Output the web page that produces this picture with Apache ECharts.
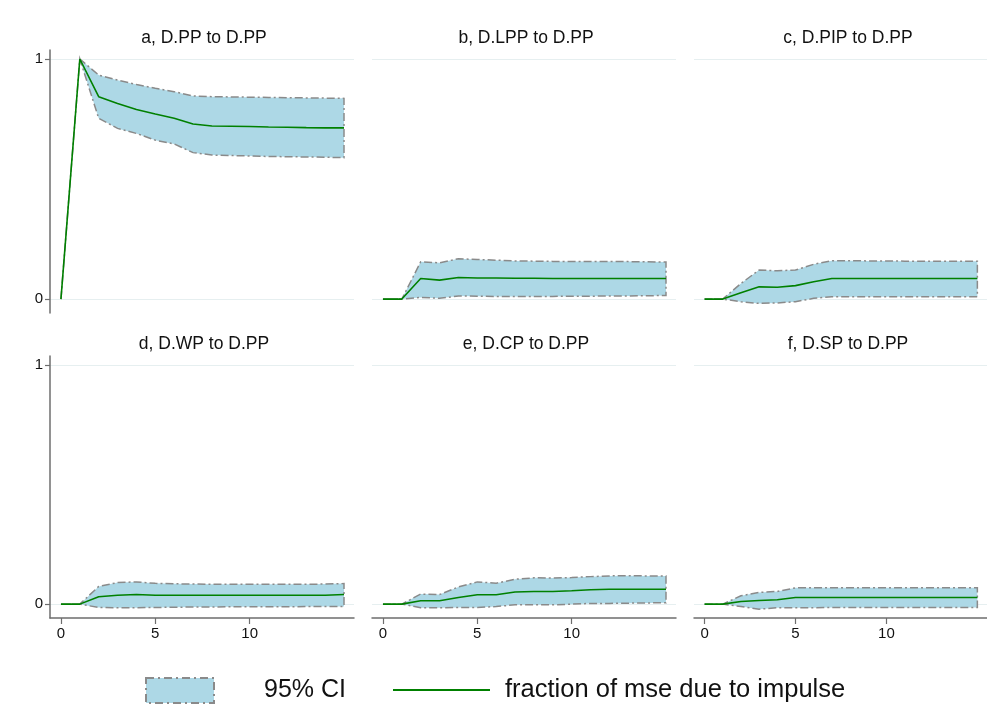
<!DOCTYPE html>
<html>
<head>
<meta charset="utf-8">
<script src="https://cdn.jsdelivr.net/npm/echarts@6/dist/echarts.min.js"></script>
<style>
  html, body { margin: 0; padding: 0; background: #fff; }
  #chart { width: 987px; height: 706px; }
</style>
</head>
<body>
<div id="chart"></div>
<script>
// forecast horizon
var steps = [0, 1, 2, 3, 4, 5, 6, 7, 8, 9, 10, 11, 12, 13, 14, 15];

// panel titles
var titles = ['a, D.PP to D.PP', 'b, D.LPP to D.PP', 'c, D.PIP to D.PP',
              'd, D.WP to D.PP', 'e, D.CP to D.PP', 'f, D.SP to D.PP'];

// fraction of mse due to impulse (point estimate)
var estA = [0, 1, 0.843, 0.815, 0.79, 0.771, 0.753, 0.729, 0.721, 0.72, 0.719, 0.717, 0.716, 0.714, 0.713, 0.713];
var estB = [0, 0, 0.086, 0.079, 0.09, 0.088, 0.088, 0.087, 0.087, 0.086, 0.086, 0.086, 0.086, 0.086, 0.086, 0.086];
var estC = [0, 0, 0.026, 0.051, 0.049, 0.056, 0.072, 0.086, 0.086, 0.086, 0.086, 0.086, 0.086, 0.086, 0.086, 0.086];
var estD = [0, 0, 0.031, 0.037, 0.04, 0.037, 0.037, 0.037, 0.037, 0.037, 0.037, 0.037, 0.037, 0.037, 0.037, 0.04];
var estE = [0, 0, 0.014, 0.014, 0.028, 0.039, 0.039, 0.051, 0.053, 0.053, 0.056, 0.06, 0.0625, 0.0625, 0.0625, 0.0625];
var estF = [0, 0, 0.011, 0.015, 0.018, 0.028, 0.028, 0.028, 0.028, 0.028, 0.028, 0.028, 0.028, 0.028, 0.028, 0.028];

// 95% CI upper bounds
var hiA = [0, 1, 0.933, 0.912, 0.894, 0.878, 0.864, 0.846, 0.843, 0.842, 0.841, 0.84, 0.839, 0.838, 0.837, 0.836];
var hiB = [0, 0, 0.155, 0.151, 0.168, 0.165, 0.162, 0.159, 0.158, 0.157, 0.157, 0.157, 0.156, 0.156, 0.155, 0.154];
var hiC = [0, 0, 0.065, 0.121, 0.118, 0.121, 0.145, 0.16, 0.16, 0.159, 0.159, 0.158, 0.158, 0.158, 0.158, 0.158];
var hiD = [0, 0, 0.074, 0.09, 0.093, 0.087, 0.085, 0.084, 0.083, 0.083, 0.083, 0.083, 0.083, 0.083, 0.084, 0.086];
var hiE = [0, 0, 0.042, 0.04, 0.072, 0.093, 0.0875, 0.104, 0.11, 0.109, 0.111, 0.115, 0.118, 0.119, 0.118, 0.118];
var hiF = [0, 0, 0.035, 0.049, 0.053, 0.068, 0.068, 0.068, 0.068, 0.069, 0.069, 0.068, 0.068, 0.068, 0.068, 0.068];

// 95% CI lower bounds
var loA = [0, 1, 0.753, 0.711, 0.69, 0.662, 0.646, 0.61, 0.6, 0.598, 0.596, 0.594, 0.593, 0.592, 0.591, 0.589];
var loB = [0, 0, 0.007, 0.003, 0.013, 0.012, 0.011, 0.011, 0.011, 0.011, 0.012, 0.012, 0.013, 0.013, 0.014, 0.015];
var loC = [0, 0, -0.011, -0.018, -0.016, -0.011, 0.003, 0.01, 0.01, 0.01, 0.01, 0.01, 0.01, 0.01, 0.01, 0.01];
var loD = [0, 0, -0.014, -0.015, -0.015, -0.014, -0.013, -0.012, -0.012, -0.011, -0.011, -0.011, -0.011, -0.01, -0.01, -0.01];
var loE = [0, 0, -0.015, -0.015, -0.014, -0.014, -0.01, -0.003, -0.003, -0.003, 0, 0.003, 0.003, 0.004, 0.005, 0.006];
var loF = [0, 0, -0.01, -0.021, -0.015, -0.015, -0.015, -0.014, -0.014, -0.014, -0.014, -0.014, -0.014, -0.014, -0.014, -0.014];

var xTicks = [0, 5, 10];
var yTicks = [0, 1];

var ests = [estA, estB, estC, estD, estE, estF];
var his = [hiA, hiB, hiC, hiD, hiE, hiF];
var los = [loA, loB, loC, loD, loE, loF];

var FONT = "'Liberation Sans', Arial, sans-serif";
var axisGray = '#6e6e6e';
var gridColor = '#e6eff0';

var dom = document.getElementById('chart');
var myChart = echarts.init(dom);

// band drawn as one polygon: upper edge forward, lower edge back
function bandRender(lo, hi) {
    return function (params, api) {
        if (params.dataIndex !== 0) return;
        var pts = [];
        for (var i = 0; i < steps.length; i++) pts.push(api.coord([steps[i], hi[i]]));
        for (var j = steps.length - 1; j >= 0; j--) pts.push(api.coord([steps[j], lo[j]]));
        return {
            type: 'polygon',
            shape: { points: pts },
            style: { fill: '#add8e6', stroke: '#8a8a8a', lineWidth: 1.5, lineDash: [8, 3, 2, 3] }
        };
    };
}

var lefts = [50, 372, 694];
var tops = [50, 356];
var grids = [], xAxes = [], yAxes = [], series = [], titleList = [];

for (var k = 0; k < 6; k++) {
    var row = Math.floor(k / 3), col = k % 3;
    grids.push({ left: lefts[col], top: tops[row], width: 304, height: row === 0 ? 263 : 262 });
    titleList.push({
        text: titles[k],
        left: lefts[col] + 154,
        textAlign: 'center',
        top: row === 0 ? 29 : 335,
        padding: 0,
        textStyle: { fontFamily: FONT, fontSize: 17.5, fontWeight: 'normal', color: '#111' }
    });
    var bottomRow = row === 1;
    xAxes.push({
        gridIndex: k,
        type: 'value',
        min: -0.58,
        max: 15.53,
        axisLine: { show: bottomRow, onZero: false, lineStyle: { color: axisGray, width: 1.5 } },
        axisTick: { show: bottomRow, length: 6, customValues: xTicks, lineStyle: { color: axisGray, width: 1.2 } },
        axisLabel: { show: bottomRow, customValues: xTicks, margin: 8, fontFamily: FONT, fontSize: 15, color: '#111' },
        splitLine: { show: false }
    });
    var leftCol = col === 0;
    yAxes.push({
        gridIndex: k,
        type: 'value',
        min: -0.058,
        max: 1.0375,
        axisLine: { show: leftCol, onZero: false, lineStyle: { color: axisGray, width: 1.5 } },
        axisTick: { show: leftCol, length: 5, customValues: yTicks, lineStyle: { color: axisGray, width: 1.2 } },
        axisLabel: { show: leftCol, customValues: yTicks, margin: 7, fontFamily: FONT, fontSize: 15, color: '#111' },
        splitLine: { show: true, lineStyle: { color: gridColor, width: 1 } }
    });
    series.push({
        name: '95% CI',
        type: 'custom',
        xAxisIndex: k,
        yAxisIndex: k,
        renderItem: bandRender(los[k], his[k]),
        data: steps.map(function (s, i) { return [s, los[k][i], his[k][i]]; }),
        encode: { x: 0, y: [1, 2] },
        clip: false,
        silent: true,
        z: 2
    });
    series.push({
        name: 'fraction of mse due to impulse',
        type: 'line',
        xAxisIndex: k,
        yAxisIndex: k,
        data: steps.map(function (s, i) { return [s, ests[k][i]]; }),
        symbol: 'none',
        lineStyle: { color: '#008000', width: 1.6 },
        itemStyle: { color: '#008000' },
        silent: true,
        z: 3
    });
}

var option = {
    backgroundColor: '#fff',
    animation: false,
    title: titleList,
    legend: [
        {
            left: 145,
            top: 677,
            padding: 0,
            itemWidth: 68,
            itemHeight: 25,
            data: [{
                name: '95% CI',
                icon: 'rect',
                itemStyle: { color: '#add8e6', borderColor: '#8a8a8a', borderWidth: 2, borderType: [8, 4, 2, 4] }
            }],
            textStyle: { fontFamily: FONT, fontSize: 25, color: '#111', padding: [0, 0, 0, 45] }
        },
        {
            left: 393,
            top: 677,
            padding: 0,
            itemWidth: 97,
            itemHeight: 2,
            data: [{
                name: 'fraction of mse due to impulse',
                icon: 'rect',
                itemStyle: { color: '#008000', borderWidth: 0 }
            }],
            textStyle: { fontFamily: FONT, fontSize: 25.5, color: '#111', padding: [0, 0, 0, 10] }
        }
    ],
    grid: grids,
    xAxis: xAxes,
    yAxis: yAxes,
    series: series
};

if (option && typeof option === 'object') {
    myChart.setOption(option, true);
}
</script>
</body>
</html>
